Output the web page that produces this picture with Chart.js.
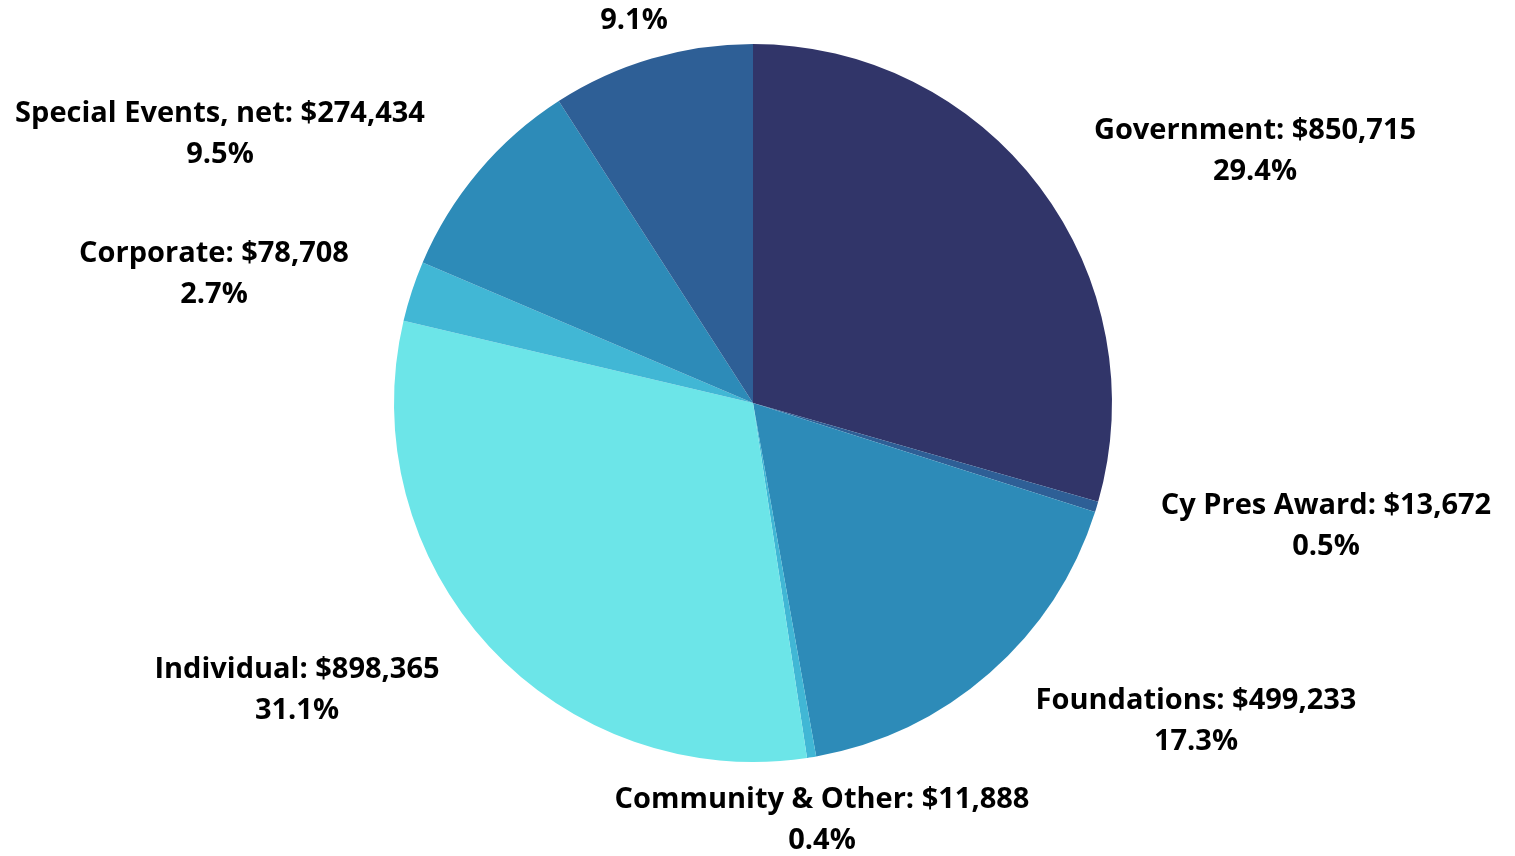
<!DOCTYPE html>
<html>
<head>
<meta charset="utf-8">
<script src="https://cdn.jsdelivr.net/npm/chart.js@4.4.1/dist/chart.umd.min.js"></script>
<style>
  html, body { margin: 0; padding: 0; background: #ffffff; }
  #wrap { width: 1515px; height: 856px; }
</style>
</head>
<body>
<div id="wrap"><canvas id="pieChart" width="1515" height="856"></canvas></div>
<script>
// Revenue sources, clockwise from 12 o'clock
const categories = [
    'Government',
    'Cy Pres Award',
    'Foundations',
    'Community & Other',
    'Individual',
    'Corporate',
    'Special Events, net',
    'Other'
];
const amounts = [850715, 13672, 499233, 11888, 898365, 78708, 274434, 263000];
const percentLabels = ['29.4%', '0.5%', '17.3%', '0.4%', '31.1%', '2.7%', '9.5%', '9.1%'];
const sliceColors = ['#313569', '#2e5f96', '#2d8bb8', '#41b7d5', '#6ce5e8', '#41b7d5', '#2d8bb8', '#2e5f96'];

// Where each two-line label sits (text centre, first line)
const labelSpots = [
    { x: 1255, y: 131 },
    { x: 1326, y: 506 },
    { x: 1196, y: 701 },
    { x: 822, y: 800 },
    { x: 297, y: 670 },
    { x: 214, y: 254 },
    { x: 220, y: 114 },
    { x: 634, y: -20 }
];

const fmt = new Intl.NumberFormat('en-US');

// Draws "Name: $amount" and the percentage under it
const sliceLabels = {
    id: 'sliceLabels',
    afterDatasetsDraw(chart) {
        const ctx = chart.ctx;
        ctx.save();
        ctx.fillStyle = '#000000';
        ctx.font = 'bold 29px "Open Sans", "Noto Sans", sans-serif';
        ctx.textAlign = 'center';
        ctx.textBaseline = 'middle';
        chart.data.labels.forEach((name, i) => {
            const spot = labelSpots[i];
            const value = chart.data.datasets[0].data[i];
            ctx.fillText(name + ': $' + fmt.format(value), spot.x, spot.y);
            ctx.fillText(percentLabels[i], spot.x, spot.y + 41);
        });
        ctx.restore();
    }
};

new Chart(document.getElementById('pieChart'), {
    type: 'pie',
    data: {
        labels: categories,
        datasets: [{
            data: amounts,
            backgroundColor: sliceColors,
            borderWidth: 0
        }]
    },
    options: {
        responsive: false,
        animation: false,
        layout: {
            padding: { top: 44, bottom: 94, left: 394, right: 403 }
        },
        plugins: {
            legend: { display: false },
            tooltip: { enabled: false }
        }
    },
    plugins: [sliceLabels]
});
</script>
</body>
</html>
